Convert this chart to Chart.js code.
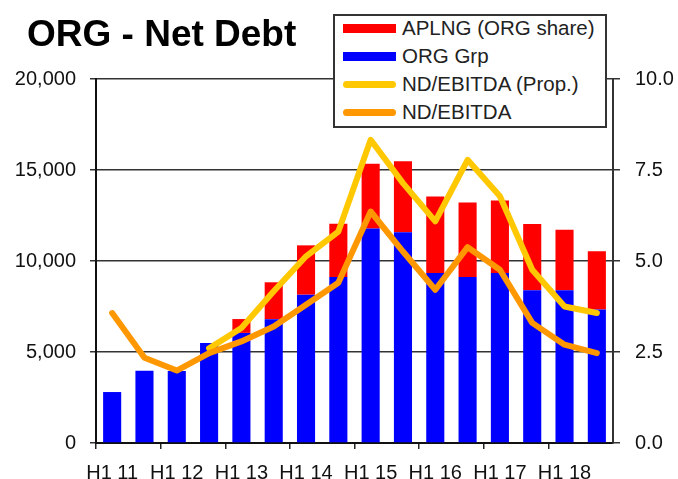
<!DOCTYPE html>
<html>
<head>
<meta charset="utf-8">
<script src="https://cdn.jsdelivr.net/npm/chart.js@4/dist/chart.umd.min.js"></script>
<style>
  html, body { margin: 0; padding: 0; background: #fff; }
  #wrap { position: relative; width: 678px; height: 479px; overflow: hidden; font-family: 'Liberation Sans', Arial, sans-serif; }
  #c { position: absolute; left: 0; top: 0; }
  #title { position: absolute; left: 27px; top: 16px; font-size: 37px; line-height: 36px; font-weight: bold; color: #000; white-space: nowrap; }
  #legend { position: absolute; left: 333px; top: 14px; width: 274px; height: 114px; box-sizing: border-box; border: 2px solid #333; background: #fff; }
  .row { position: absolute; left: 0; height: 28px; width: 270px; }
  .sw { position: absolute; left: 8px; width: 53px; }
  .lbl { position: absolute; left: 67px; top: 0; font-size: 20.5px; line-height: 28px; color: #222; white-space: nowrap; }
</style>
</head>
<body>
<div id="wrap">
  <canvas id="c" width="678" height="479"></canvas>
  <div id="title">ORG - Net Debt</div>
  <div id="legend"></div>
</div>
<script>
// ---- data ----
const categories = ["H1 11","H2 11","H1 12","H2 12","H1 13","H2 13","H1 14","H2 14","H1 15","H2 15","H1 16","H2 16","H1 17","H2 17","H1 18","H2 18"];
const orgGrp = [2800, 3970, 3950, 5500, 6050, 6800, 8150, 9120, 11790, 11580, 9340, 9120, 9340, 8390, 8390, 7330];
const aplngShare = [0, 0, 0, 0, 760, 2030, 2710, 2930, 3560, 3900, 4200, 4100, 3990, 3640, 3330, 3200];
const ndEbitda = [3.57, 2.34, 1.99, 2.47, 2.79, 3.20, 3.80, 4.40, 6.36, 5.26, 4.21, 5.38, 4.76, 3.30, 2.70, 2.47];
const ndEbitdaProp = [null, null, null, 2.60, 3.16, 4.17, 5.13, 5.81, 8.33, 7.14, 6.09, 7.78, 6.78, 4.76, 3.75, 3.57];
const leftTicks = [0, 5000, 10000, 15000, 20000];
const rightTicks = [0, 2.5, 5, 7.5, 10];

Chart.defaults.font.family = "'Liberation Sans', Arial, sans-serif";
Chart.defaults.color = '#111';

const datasets = [
  { type: 'bar', label: 'ORG Grp', data: orgGrp, backgroundColor: '#0000FF', yAxisID: 'y', stack: 's', order: 2, barPercentage: 0.56, categoryPercentage: 1.0 },
  { type: 'bar', label: 'APLNG (ORG share)', data: aplngShare, backgroundColor: '#FF0000', yAxisID: 'y', stack: 's', order: 2, barPercentage: 0.56, categoryPercentage: 1.0 },
  { type: 'line', label: 'ND/EBITDA (Prop.)', data: ndEbitdaProp, borderColor: '#FFC800', backgroundColor: '#FFC800', borderWidth: 6, pointRadius: 0, tension: 0, yAxisID: 'y2', order: 1, borderCapStyle: 'round', borderJoinStyle: 'round', spanGaps: false },
  { type: 'line', label: 'ND/EBITDA', data: ndEbitda, borderColor: '#FF9800', backgroundColor: '#FF9800', borderWidth: 6, pointRadius: 0, tension: 0, yAxisID: 'y2', order: 0, borderCapStyle: 'round', borderJoinStyle: 'round' }
];

const chart = new Chart(document.getElementById('c'), {
  data: { labels: categories, datasets: datasets },
  options: {
    responsive: false,
    animation: false,
    devicePixelRatio: 1,
    layout: { padding: { left: 0, right: 0, top: 79, bottom: 0 } },
    plugins: { legend: { display: false }, tooltip: { enabled: false }, title: { display: false } },
    scales: {
      x: {
        stacked: true,
        offset: true,
        afterFit: s => { s.height = 36; },
        grid: {
          offset: true,
          drawOnChartArea: false,
          drawTicks: true,
          tickLength: 6,
          lineWidth: 1.5,
          color: ctx => (ctx.index % 2 === 0 ? '#222' : 'rgba(0,0,0,0)')
        },
        border: { display: true, color: '#111', width: 2 },
        ticks: {
          autoSkip: false,
          maxRotation: 0,
          minRotation: 0,
          padding: 12,
          font: { size: 20 },
          color: '#111',
          callback: function (v, i) { return i % 2 === 0 ? this.getLabelForValue(v) : ''; }
        }
      },
      y: {
        position: 'left',
        stacked: true,
        min: 0,
        max: 20000,
        afterFit: s => { s.width = 96; },
        afterBuildTicks: s => { s.ticks = leftTicks.map(v => ({ value: v })); },
        grid: { color: '#333', lineWidth: 1.5, tickLength: 6 },
        border: { display: true, color: '#111', width: 2 },
        ticks: {
          padding: 14,
          font: { size: 20 },
          color: '#111',
          callback: v => v.toLocaleString('en-US')
        }
      },
      y2: {
        position: 'right',
        stacked: false,
        min: 0,
        max: 10,
        afterFit: s => { s.width = 65; },
        afterBuildTicks: s => { s.ticks = rightTicks.map(v => ({ value: v })); },
        grid: { drawOnChartArea: false, color: '#333', lineWidth: 1.5, tickLength: 7 },
        border: { display: true, color: '#333', width: 2 },
        ticks: {
          padding: 15,
          font: { size: 20 },
          color: '#111',
          callback: v => Number(v).toFixed(1)
        }
      }
    }
  }
});

// ---- HTML legend built from dataset labels/colors ----
const legendOrder = ['APLNG (ORG share)', 'ORG Grp', 'ND/EBITDA (Prop.)', 'ND/EBITDA'];
const legendEl = document.getElementById('legend');
legendOrder.forEach((name, i) => {
  const ds = datasets.find(d => d.label === name);
  const row = document.createElement('div');
  row.className = 'row';
  row.style.top = (28 * i - 2) + 'px';
  const sw = document.createElement('div');
  sw.className = 'sw';
  const isBar = ds.type === 'bar';
  const h = isBar ? 9 : 7;
  sw.style.height = h + 'px';
  sw.style.top = (14 - h / 2) + 'px';
  sw.style.background = ds.backgroundColor;
  if (!isBar) sw.style.borderRadius = '4px';
  const lbl = document.createElement('div');
  lbl.className = 'lbl';
  lbl.textContent = ds.label;
  row.appendChild(sw);
  row.appendChild(lbl);
  legendEl.appendChild(row);
});
</script>
</body>
</html>
